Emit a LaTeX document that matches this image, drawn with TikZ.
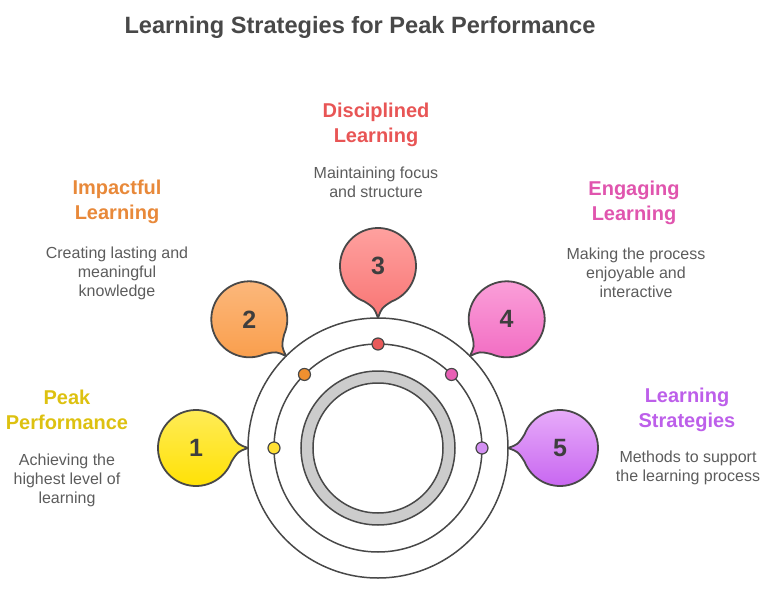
\documentclass[tikz,border=0pt]{standalone}
\usepackage{fontspec}
\setmainfont{Liberation Sans}
\usepackage{tikz}
\usetikzlibrary{calc}

\definecolor{ink}{HTML}{484848}
\definecolor{numink}{HTML}{3E3E3E}
\definecolor{descgray}{HTML}{5C5C5C}
\definecolor{ringfill}{HTML}{CCCCCC}
\definecolor{yellowA}{HTML}{FFEC5C}
\definecolor{yellowB}{HTML}{FFE100}
\definecolor{orangeA}{HTML}{FCB97E}
\definecolor{orangeB}{HTML}{F99D4A}
\definecolor{redA}{HTML}{FFA3A1}
\definecolor{redB}{HTML}{F87574}
\definecolor{pinkA}{HTML}{FBA2DA}
\definecolor{pinkB}{HTML}{F26DC3}
\definecolor{purpleA}{HTML}{E9B0FA}
\definecolor{purpleB}{HTML}{C662F0}
\definecolor{dotyellow}{HTML}{FFE033}
\definecolor{dotorange}{HTML}{F0902F}
\definecolor{dotred}{HTML}{E85A5A}
\definecolor{dotpink}{HTML}{E860B5}
\definecolor{dotpurple}{HTML}{D390F3}
\definecolor{headyellow}{HTML}{DDC110}
\definecolor{headorange}{HTML}{E8893A}
\definecolor{headred}{HTML}{E85555}
\definecolor{headpink}{HTML}{E055AE}
\definecolor{headpurple}{HTML}{BD5FEA}

\begin{document}
\begin{tikzpicture}[x=1pt,y=1pt,
  ring/.style={draw=ink,line width=1.5pt},
  bubble/.style={draw=ink,line width=1.8pt,line join=round},
  dot/.style={draw=ink,line width=1.2pt},
  num/.style={font=\fontsize{25}{25}\selectfont\bfseries,text=numink},
  head/.style={font=\fontsize{20}{25}\selectfont\bfseries,align=center},
  desc/.style={font=\fontsize{16}{19}\selectfont,text=descgray,align=center}]
\useasboundingbox (-378,-152) rectangle (390,448);

\node[font=\fontsize{23.6}{24}\selectfont\bfseries,text=ink] (title) at (-18,421) {Learning Strategies for Peak Performance};

% rings
\draw[ring] (0,0) circle[radius=130pt];
\draw[ring] (0,0) circle[radius=104pt];
\draw[ring,fill=ringfill,even odd rule] (0,0) circle[radius=77pt] (0,0) circle[radius=65pt];

% bubbles, tails pointing at the outer ring
\draw[bubble,top color=yellowA,bottom color=yellowB,shift={(180:182)}] (21:38) .. controls (5:42) .. (0:52) .. controls (-5:42) .. (-21:38) arc[start angle=-21,delta angle=-318,radius=38pt] -- cycle;
\draw[bubble,top color=orangeA,bottom color=orangeB,shift={(135:182)}] (336:38) .. controls (320:42) .. (315:52) .. controls (310:42) .. (294:38) arc[start angle=294,delta angle=-318,radius=38pt] -- cycle;
\draw[bubble,top color=redA,bottom color=redB,shift={(90:182)}] (291:38) .. controls (275:42) .. (270:52) .. controls (265:42) .. (249:38) arc[start angle=249,delta angle=-318,radius=38pt] -- cycle;
\draw[bubble,top color=pinkA,bottom color=pinkB,shift={(45:182)}] (246:38) .. controls (230:42) .. (225:52) .. controls (220:42) .. (204:38) arc[start angle=204,delta angle=-318,radius=38pt] -- cycle;
\draw[bubble,top color=purpleA,bottom color=purpleB,shift={(0:182)}] (201:38) .. controls (185:42) .. (180:52) .. controls (175:42) .. (159:38) arc[start angle=159,delta angle=-318,radius=38pt] -- cycle;

% dots on the middle ring
\draw[dot,fill=dotyellow] (180:104) circle[radius=6pt];
\draw[dot,fill=dotorange] (135:104) circle[radius=6pt];
\draw[dot,fill=dotred] (90:104) circle[radius=6pt];
\draw[dot,fill=dotpink] (45:104) circle[radius=6pt];
\draw[dot,fill=dotpurple] (0:104) circle[radius=6pt];

\node[num] (n1) at (180:182) {1};
\node[num] (n2) at (135:182) {2};
\node[num] (n3) at (90:182) {3};
\node[num] (n4) at (45:182) {4};
\node[num] (n5) at (0:182) {5};

\node[head,text=headyellow] (h1) at (-311,38.5) {Peak\\Performance};
\node[desc] (d1) at (-311,-32) {Achieving the\\highest level of\\learning};
\node[head,text=headorange] (h2) at (-261,246) {Impactful\\Learning};
\node[desc] (d2) at (-261,175) {Creating lasting and\\meaningful\\knowledge};
\node[head,text=headred] (h3) at (-2,323.5) {Disciplined\\Learning};
\node[desc] (d3) at (-2,265.5) {Maintaining focus\\and structure};
\node[head,text=headpink] (h4) at (256,245.5) {Engaging\\Learning};
\node[desc] (d4) at (258,175) {Making the process\\enjoyable and\\interactive};
\node[head,text=headpurple] (h5) at (309,38.5) {Learning\\Strategies};
\node[desc] (d5) at (310,-19.5) {Methods to support\\the learning process};
\end{tikzpicture}
\end{document}
